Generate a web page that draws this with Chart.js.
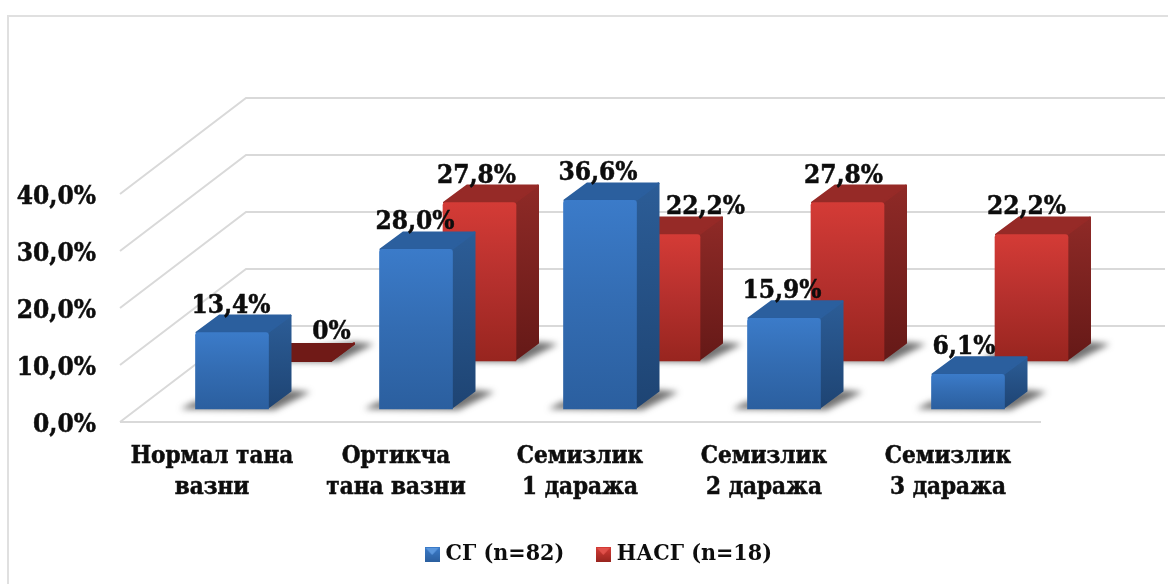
<!DOCTYPE html>
<html><head><meta charset="utf-8">
<style>
html,body{margin:0;padding:0;background:#fff;width:1168px;height:584px;overflow:hidden}
#wrap{position:absolute;left:0;top:0;width:1168px;height:584px}
#frame{position:absolute;left:7px;top:15px;width:1175px;height:580px;border:2px solid #e0e0e0;box-sizing:border-box}
canvas{position:absolute;left:0;top:0}
</style>
<script src="https://cdn.jsdelivr.net/npm/chart.js@4"></script>
</head><body>
<div id="wrap"><div id="frame"></div><canvas id="c" width="1168" height="584"></canvas></div>
<script>
const categories = [["Нормал тана","вазни"],["Ортикча","тана вазни"],["Семизлик","1 даража"],["Семизлик","2 даража"],["Семизлик","3 даража"]];
const sgValues = [13.4, 28.0, 36.6, 15.9, 6.1];
const nasgValues = [0, 27.8, 22.2, 27.8, 22.2];
const sgLabels = ["13,4%","28,0%","36,6%","15,9%","6,1%"];
const nasgLabels = ["0%","27,8%","22,2%","27,8%","22,2%"];
const yTickLabels = {0:"0,0%",10:"10,0%",20:"20,0%",30:"30,0%",40:"40,0%"};
const seriesNames = ["СГ (n=82)","НАСГ (n=18)"];

const FONT = "'DejaVu Serif Condensed','DejaVu Serif',serif";
const TXT = "#0d0d0d";
const depth = {x:23, y:18};
const wall = {x:126, y:96, right:1165, frontRight:1041};
const shift = [{x:20, y:-13},{x:83.5, y:-61}];
const labelShift = [[-1,-1,-2,-2,-4],[36,-3,42,-4,-5]];
const labelLift = 20;
const pal = [
 {front:["#3b7bc9","#336cb2","#2b5f9f"],top:"#2b5f9e",side:["#2c5d97","#1e4473"],legend:["#5a96dc","#2a5ea3"]},
 {front:["#d43b36","#b5302d","#98251f"],top:"#962a27",side:["#8f2a27","#651917"],flat:"#701a17",legend:["#e0504a","#9b2623"]}
];

function marker(p){
  const c=document.createElement('canvas');c.width=15;c.height=15;const g=c.getContext('2d');
  const l=g.createLinearGradient(0,0,0,15);l.addColorStop(0,p.front[0]);l.addColorStop(1,p.front[2]);
  g.fillStyle=l;g.fillRect(0,0,15,15);
  g.fillStyle=p.legend[0];g.beginPath();g.moveTo(1,1);g.lineTo(14,1);g.lineTo(7.5,8);g.closePath();g.fill();
  return c;
}
function frontFill(ds){
  return function(ctx){
    const chart=ctx.chart; const y=chart.scales.y;
    if(!y||ctx.parsed===undefined||!chart.chartArea) return pal[ds].front[1];
    const g=chart.ctx.createLinearGradient(0,y.getPixelForValue(ctx.parsed.y),0,y.getPixelForValue(0));
    g.addColorStop(0,pal[ds].front[0]);g.addColorStop(.5,pal[ds].front[1]);g.addColorStop(1,pal[ds].front[2]);
    return g;
  };
}
let tickNudged=false;
const bars3d={
  id:'bars3d',
  beforeDraw(chart){
    if(!tickNudged){
      chart.scales.y.getLabelItems().forEach(it=>{it.options.translation[1]+=3;});
      tickNudged=true;
    }
  },
  beforeDatasetsDraw(chart){
    const c=chart.ctx,y=chart.scales.y,x0=chart.chartArea.left;
    c.save();c.strokeStyle="#d9d9d9";c.lineWidth=2;
    y.ticks.forEach(t=>{
      const py=y.getPixelForValue(t.value);
      c.beginPath();c.moveTo(x0,py);c.lineTo(x0+wall.x,py-wall.y);c.lineTo(wall.right,py-wall.y);c.stroke();
    });
    const p0=y.getPixelForValue(0);
    c.beginPath();c.moveTo(x0,p0);c.lineTo(wall.frontRight,p0);c.stroke();
    c.restore();
  },
  beforeDatasetDraw(chart,args){
    const c=chart.ctx,i=args.index,s=shift[i],p=pal[i];
    c.save();c.translate(s.x,s.y);
    chart.getDatasetMeta(i).data.forEach((b,k)=>{
      const l=b.x-b.width/2,r=b.x+b.width/2,t=b.y,base=b.base,v=chart.data.datasets[i].data[k];
      // ground shadow
      c.save();c.filter='blur(3px)';c.fillStyle='rgba(60,60,60,.72)';
      c.beginPath();c.moveTo(l-15,base);c.lineTo(l-2,base-7);c.lineTo(r+depth.x,base-depth.y-1);c.lineTo(r+depth.x+19,base-depth.y+1);c.lineTo(r+6,base+1);c.closePath();c.fill();c.restore();
      c.lineJoin='round';c.lineWidth=2;
      // side face
      const gs=c.createLinearGradient(0,t-depth.y,0,base);gs.addColorStop(0,p.side[0]);gs.addColorStop(1,p.side[1]);
      c.fillStyle=gs;c.strokeStyle=gs;
      c.beginPath();c.moveTo(r-1,t);c.lineTo(r+depth.x-1,t-depth.y+1);c.lineTo(r+depth.x-1,base-depth.y);c.lineTo(r-1,base-1);c.closePath();c.fill();c.stroke();
      // top face
      const tc=(v===0&&p.flat)?p.flat:p.top;
      c.fillStyle=tc;c.strokeStyle=tc;
      c.beginPath();c.moveTo(l+1,t);c.lineTo(l+depth.x+1,t-depth.y+1);c.lineTo(r+depth.x-1,t-depth.y+1);c.lineTo(r-1,t);c.closePath();c.fill();c.stroke();
    });
  },
  afterDatasetDraw(chart){chart.ctx.restore();},
  afterDatasetsDraw(chart){
    const c=chart.ctx;
    c.save();c.font=`bold 26px ${FONT}`;c.fillStyle=TXT;c.strokeStyle=TXT;c.lineWidth=.5;c.textAlign='center';c.textBaseline='alphabetic';
    [sgLabels,nasgLabels].forEach((labels,i)=>{
      chart.getDatasetMeta(i).data.forEach((b,k)=>{
        const isFlat=chart.data.datasets[i].data[k]===0;
        const px=b.x+shift[i].x+labelShift[i][k],py=b.y+shift[i].y-(isFlat?22:labelLift);
        c.fillText(labels[k],px,py);c.strokeText(labels[k],px,py);
      });
    });
    c.restore();
  },
  afterLayout(chart){
    const l=chart.legend;
    if(l){const cx=601,w=l.width;l.left=cx-w/2;l.right=cx+w/2;l.top=506;l.bottom=506+l.height;}
  }
};
new Chart(document.getElementById('c'),{
  type:'bar',
  data:{labels:categories,datasets:[
    {label:seriesNames[0],data:sgValues,backgroundColor:frontFill(0),pointStyle:marker(pal[0]),grouped:false,barThickness:73,borderRadius:{topLeft:3,topRight:3},clip:false},
    {label:seriesNames[1],data:nasgValues,backgroundColor:frontFill(1),pointStyle:marker(pal[1]),grouped:false,barThickness:73,borderRadius:{topLeft:3,topRight:3},clip:false}
  ]},
  options:{
    responsive:false,animation:false,
    layout:{padding:{top:194,right:128,left:0,bottom:0}},
    plugins:{tooltip:{enabled:false},
      legend:{position:'bottom',labels:{usePointStyle:true,pointStyleWidth:4,boxHeight:15,color:TXT,font:{family:FONT,size:23,weight:'bold'},padding:37}}},
    scales:{
      x:{grid:{display:false},border:{display:false},
        afterFit(s){s.height=92;},
        ticks:{color:TXT,font:{family:FONT,size:24,weight:'bold',lineHeight:1.29},textStrokeColor:TXT,textStrokeWidth:.5,maxRotation:0,minRotation:0,autoSkip:false,padding:11}},
      y:{min:0,max:40,grid:{display:false},border:{display:false},
        afterFit(s){s.width=120;},
        ticks:{stepSize:10,color:TXT,font:{family:FONT,size:26,weight:'bold'},textStrokeColor:TXT,textStrokeWidth:.5,padding:16,callback:v=>yTickLabels[v]}}
    }
  },
  plugins:[bars3d]
});
</script>
</body></html>
